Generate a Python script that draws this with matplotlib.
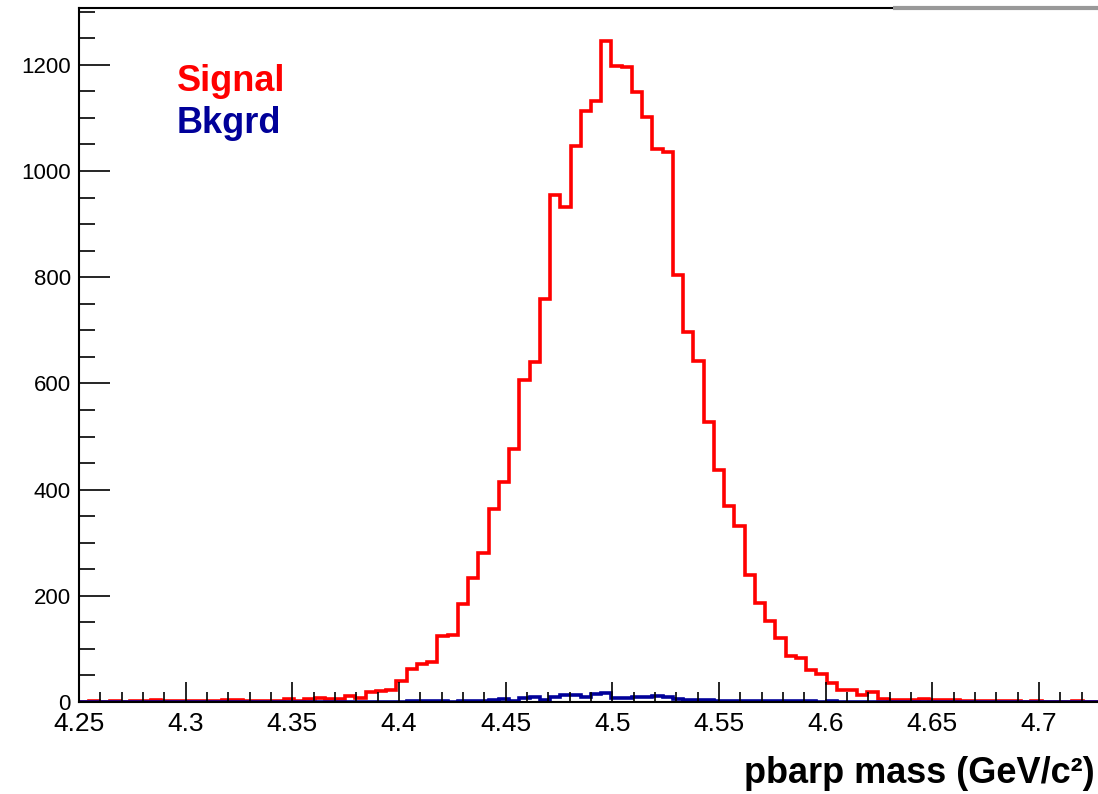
import numpy as np
import matplotlib
matplotlib.use("Agg")
import matplotlib.pyplot as plt
from matplotlib.ticker import MultipleLocator

# histogram: 100 bins from 4.25 to 4.73 GeV/c^2
X_MIN = 4.25
X_MAX = 4.73
N_BINS = 100

signal = [
    0, 1, 0, 1, 0, 1, 1, 3, 2, 1,
    1, 1, 2, 1, 3, 3, 1, 2, 2, 1,
    5, 2, 5, 7, 5, 5, 11, 8, 19, 21,
    22, 39, 62, 72, 76, 124, 126, 184, 233, 281,
    364, 415, 477, 607, 640, 759, 955, 932, 1047, 1113,
    1132, 1244, 1197, 1196, 1149, 1101, 1041, 1036, 804, 696,
    642, 528, 437, 370, 332, 239, 186, 153, 120, 87,
    83, 60, 53, 36, 23, 22, 14, 18, 5, 3,
    3, 3, 5, 3, 3, 3, 2, 2, 1, 2,
    1, 1, 0, 1, 0, 0, 0, 1, 0, 0,
]

background = [
    0, 0, 0, 0, 0, 0, 0, 0, 0, 0,
    0, 0, 0, 0, 0, 0, 0, 0, 0, 0,
    0, 0, 0, 0, 0, 0, 0, 0, 0, 0,
    0, 0, 1, 2, 2, 1, 0, 2, 2, 2,
    3, 5, 2, 7, 9, 4, 9, 14, 13, 9,
    15, 17, 7, 7, 9, 9, 12, 10, 6, 3,
    3, 3, 2, 1, 1, 1, 1, 2, 1, 1,
    1, 1, 0, 1, 0, 0, 0, 0, 0, 0,
    0, 0, 0, 0, 0, 0, 0, 0, 0, 0,
    0, 0, 0, 0, 0, 0, 0, 0, 0, 0,
]

x_tick_labels = ["4.25", "4.3", "4.35", "4.4", "4.45", "4.5",
                 "4.55", "4.6", "4.65", "4.7"]

edges = np.linspace(X_MIN, X_MAX, N_BINS + 1)

plt.rcParams["font.family"] = ["Liberation Sans", "DejaVu Sans"]

fig = plt.figure(figsize=(10.98, 7.94), dpi=100)
W, H = 1098, 794
ax_left, ax_right, ax_top, ax_bottom = 79, 1103, 8, 702
ax = fig.add_axes([ax_left / W, 1 - ax_bottom / H,
                   (ax_right - ax_left) / W, (ax_bottom - ax_top) / H])

ax.stairs(signal, edges, color="#ff0000", linewidth=2.6)
ax.stairs(background, edges, color="#000099", linewidth=2.6)

ax.set_xlim(X_MIN, X_MAX)
ax.set_ylim(0, 1307)

ax.xaxis.set_minor_locator(MultipleLocator(0.01))
ax.yaxis.set_major_locator(MultipleLocator(200))
ax.yaxis.set_minor_locator(MultipleLocator(50))
ax.set_xticks(np.linspace(4.25, 4.7, len(x_tick_labels)))
ax.set_xticklabels(x_tick_labels)

ax.tick_params(axis="both", which="both", direction="in", color="black",
               width=1.2)
ax.tick_params(axis="x", which="major", length=14.5, labelsize=19, pad=7.5)
ax.tick_params(axis="x", which="minor", length=7)
ax.tick_params(axis="y", which="major", length=22.5, labelsize=16, pad=6)
ax.tick_params(axis="y", which="minor", length=11.5)
ax.tick_params(top=False, right=False, which="both")

for side in ["left", "bottom", "top"]:
    ax.spines[side].set_linewidth(1.5)
ax.spines["right"].set_visible(False)

# grey segment at the right of the top frame
ax.plot([4.6314, X_MAX], [1.0, 1.0], transform=ax.get_xaxis_transform(),
        color="#999999", linewidth=3, clip_on=False, solid_capstyle="butt",
        zorder=5)

ax.text(0.0955, (702 - 91) / 694, "Signal", transform=ax.transAxes,
        color="#ff0000", fontsize=26, fontweight="bold", va="baseline")
ax.text(0.0955, (702 - 133) / 694, "Bkgrd", transform=ax.transAxes,
        color="#000099", fontsize=26, fontweight="bold", va="baseline")

fig.text(1095 / W, 1 - 783 / H, "pbarp mass (GeV/c²)",
         ha="right", va="baseline", fontsize=26, fontweight="bold")

fig.savefig("out.png", dpi=100)
